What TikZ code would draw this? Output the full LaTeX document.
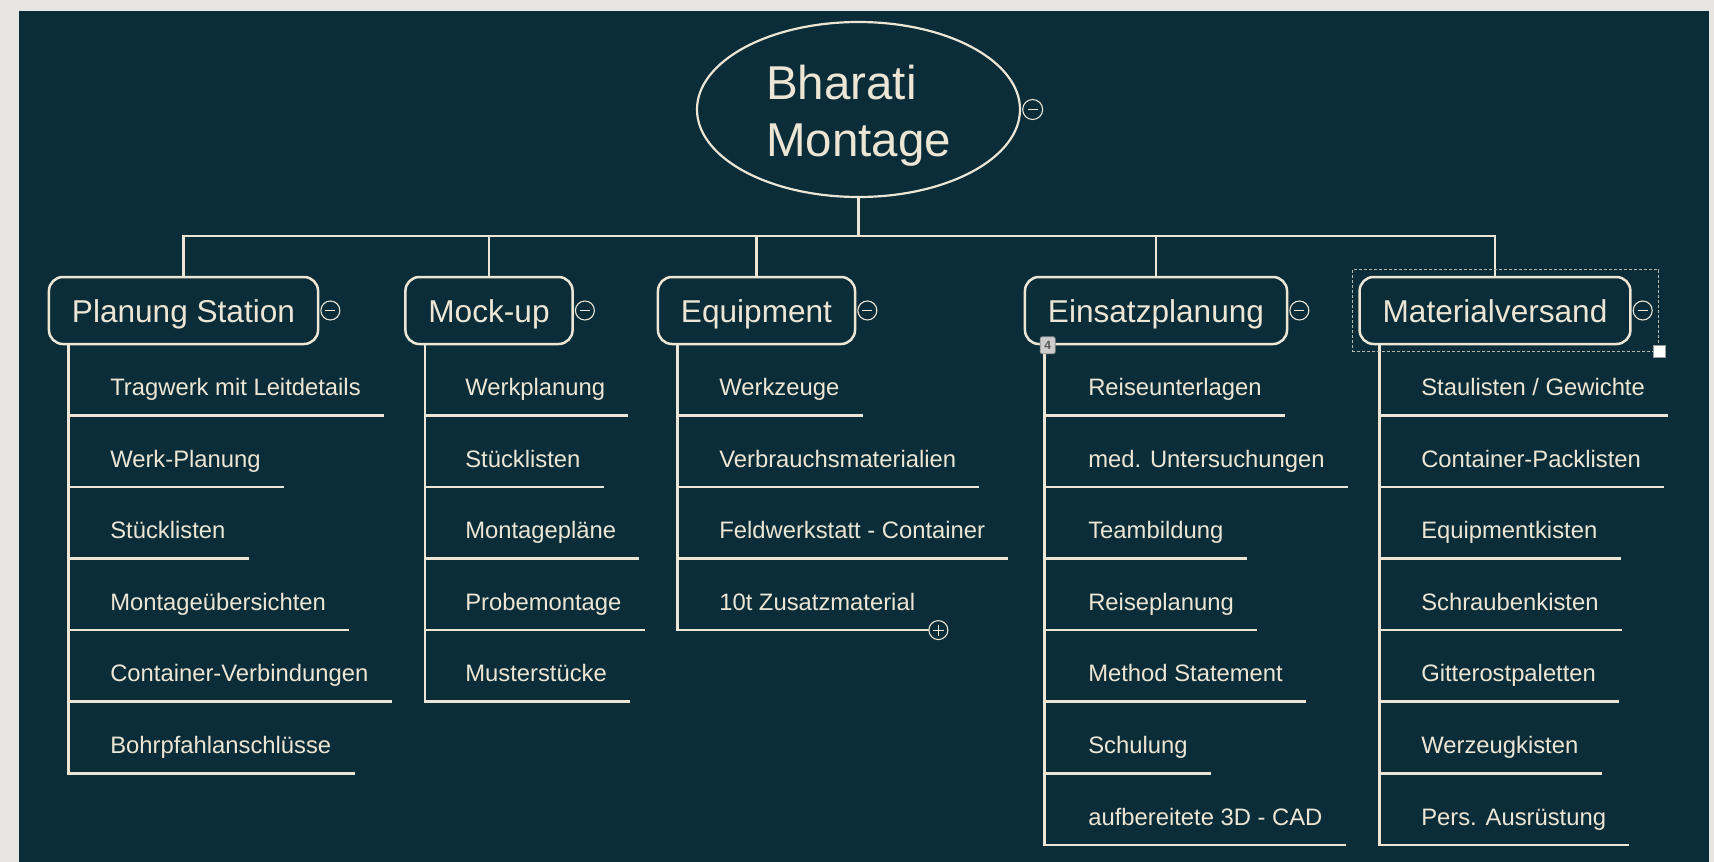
\documentclass[tikz,border=0pt]{standalone}
\usepackage{fontspec}
\setmainfont{Liberation Sans}
\usetikzlibrary{positioning,shapes.geometric,fit}
\definecolor{mapbg}{HTML}{0A2D39}
\definecolor{mapline}{HTML}{EEE6D4}
\definecolor{mapframe}{HTML}{E8E6E3}

\tikzset{
  root/.style={ellipse, draw=mapline, line width=2.2pt, inner sep=0pt,
    minimum width=323pt, minimum height=175pt, align=left,
    text height=103pt, text depth=10pt,
    font=\fontsize{47.5}{57}\selectfont},
  topic/.style={draw=mapline, rounded corners=14pt, line width=2.5pt,
    minimum height=67pt, inner xsep=23pt, text height=23pt, text depth=0pt,
    font=\fontsize{31.6}{38}\selectfont},
  item/.style={anchor=base west, inner sep=0pt, text depth=18.5pt,
    font=\fontsize{23.8}{28}\selectfont},
  fold/.style={circle, draw=mapline, line width=1.1pt, fill=mapbg,
    inner sep=0pt, minimum size=19pt},
  foldminus/.style={fold, path picture={
    \draw[mapline, line width=1.1pt] ([xshift=-5pt]path picture bounding box.center)
      -- ([xshift=5pt]path picture bounding box.center);}},
  foldplus/.style={fold, path picture={
    \draw[mapline, line width=1.1pt] ([xshift=-5.5pt]path picture bounding box.center)
      -- ([xshift=5.5pt]path picture bounding box.center);
    \draw[mapline, line width=1.1pt] ([yshift=-5.5pt]path picture bounding box.center)
      -- ([yshift=5.5pt]path picture bounding box.center);}},
  badge/.style={fill=black!20, draw=black!45, line width=0.8pt, rounded corners=2pt,
    minimum width=15pt, minimum height=17pt, inner sep=0pt, text=black!65,
    font=\fontsize{12}{12}\selectfont\bfseries},
  selbox/.style={draw=mapline!75!mapbg, line width=1pt, dash pattern=on 3pt off 2pt,
    inner sep=6pt},
  grip/.style={fill=white, draw=black!40, line width=0.6pt, minimum size=12pt, inner sep=0pt}
}

\begin{document}
\begin{tikzpicture}[x=1pt, y=-1pt, color=mapline, line width=2.6pt]
  \useasboundingbox (0,0) rectangle (1714,862);
  \fill[mapframe] (0,0) rectangle (1714,862);
  \fill[mapbg] (19,11) rectangle (1709,862);

  % central topic
  \node (root) [root] at (858.5,109.5) {Bharati\\Montage};
  \node (rootm) [foldminus, minimum size=20pt, right=1pt of root] {};
  \coordinate (bus) at (858.5,236);

  % main topics
  \node (ps) [topic] at (183.5,310.5) {Planung Station};
  \node (mu) [topic] at (489,310.5) {Mock-up};
  \node (eq) [topic] at (756.5,310.5) {Equipment};
  \node (ep) [topic] at (1156,310.5) {Einsatzplanung};
  \node (mv) [topic] at (1495,310.5) {Materialversand};

  \node (psm) [foldminus, right=1pt of ps] {};
  \node (mum) [foldminus, right=1pt of mu] {};
  \node (eqm) [foldminus, right=1pt of eq] {};
  \node (epm) [foldminus, right=1pt of ep] {};
  \node (mvm) [foldminus, right=1pt of mv] {};

  \draw (root.south) -- (bus);
  \draw (ps.north) -- (ps.north |- bus) -- (mv.north |- bus) -- (mv.north);
  \draw (mu.north) -- (mu.north |- bus);
  \draw (eq.north) -- (eq.north |- bus);
  \draw (ep.north) -- (ep.north |- bus);

  % Planung Station
  \coordinate (psT) at ([xshift=21pt]ps.south west);
  \node (ps1) [item] at (109,395.5) {Tragwerk mit Leitdetails};
  \node (ps2) [below=71.6pt of ps1.base west, item] {Werk-Planung};
  \node (ps3) [below=71.6pt of ps2.base west, item] {Stücklisten};
  \node (ps4) [below=71.6pt of ps3.base west, item] {Montageübersichten};
  \node (ps5) [below=71.6pt of ps4.base west, item] {Container-Verbindungen};
  \node (ps6) [below=71.6pt of ps5.base west, item] {Bohrpfahlanschlüsse};
  \draw (psT |- ps1.south) -- ([xshift=22pt]ps1.south east);
  \draw (psT |- ps2.south) -- ([xshift=22pt]ps2.south east);
  \draw (psT |- ps3.south) -- ([xshift=22pt]ps3.south east);
  \draw (psT |- ps4.south) -- ([xshift=22pt]ps4.south east);
  \draw (psT |- ps5.south) -- ([xshift=22pt]ps5.south east);
  \draw (psT) -- (psT |- ps6.south) -- ([xshift=22pt]ps6.south east);

  % Mock-up
  \coordinate (muT) at ([xshift=21pt]mu.south west);
  \node (mu1) [item] at (464,395.5) {Werkplanung};
  \node (mu2) [below=71.6pt of mu1.base west, item] {Stücklisten};
  \node (mu3) [below=71.6pt of mu2.base west, item] {Montagepläne};
  \node (mu4) [below=71.6pt of mu3.base west, item] {Probemontage};
  \node (mu5) [below=71.6pt of mu4.base west, item] {Musterstücke};
  \draw (muT |- mu1.south) -- ([xshift=22pt]mu1.south east);
  \draw (muT |- mu2.south) -- ([xshift=22pt]mu2.south east);
  \draw (muT |- mu3.south) -- ([xshift=22pt]mu3.south east);
  \draw (muT |- mu4.south) -- ([xshift=22pt]mu4.south east);
  \draw (muT) -- (muT |- mu5.south) -- ([xshift=22pt]mu5.south east);

  % Equipment
  \coordinate (eqT) at ([xshift=21pt]eq.south west);
  \node (eq1) [item] at (718,395.5) {Werkzeuge};
  \node (eq2) [below=71.6pt of eq1.base west, item] {Verbrauchsmaterialien};
  \node (eq3) [below=71.6pt of eq2.base west, item] {Feldwerkstatt - Container};
  \node (eq4) [below=71.6pt of eq3.base west, item] {10t Zusatzmaterial};
  \draw (eqT |- eq1.south) -- ([xshift=22pt]eq1.south east);
  \draw (eqT |- eq2.south) -- ([xshift=22pt]eq2.south east);
  \draw (eqT |- eq3.south) -- ([xshift=22pt]eq3.south east);
  \draw (eqT) -- (eqT |- eq4.south) -- ([xshift=22pt]eq4.south east);
  \node (eqp) [foldplus] at ([xshift=22pt]eq4.south east) {};

  % Einsatzplanung
  \coordinate (epT) at ([xshift=21pt]ep.south west);
  \node (ep1) [item] at (1087,395.5) {Reiseunterlagen};
  \node (ep2) [below=71.6pt of ep1.base west, item] {med. Untersuchungen};
  \node (ep3) [below=71.6pt of ep2.base west, item] {Teambildung};
  \node (ep4) [below=71.6pt of ep3.base west, item] {Reiseplanung};
  \node (ep5) [below=71.6pt of ep4.base west, item] {Method Statement};
  \node (ep6) [below=71.6pt of ep5.base west, item] {Schulung};
  \node (ep7) [below=71.6pt of ep6.base west, item] {aufbereitete 3D - CAD};
  \draw (epT |- ep1.south) -- ([xshift=22pt]ep1.south east);
  \draw (epT |- ep2.south) -- ([xshift=22pt]ep2.south east);
  \draw (epT |- ep3.south) -- ([xshift=22pt]ep3.south east);
  \draw (epT |- ep4.south) -- ([xshift=22pt]ep4.south east);
  \draw (epT |- ep5.south) -- ([xshift=22pt]ep5.south east);
  \draw (epT |- ep6.south) -- ([xshift=22pt]ep6.south east);
  \draw (epT) -- (epT |- ep7.south) -- ([xshift=22pt]ep7.south east);
  \node (epn) [badge] at ([xshift=24pt]ep.south west) {4};

  % Materialversand
  \coordinate (mvT) at ([xshift=21pt]mv.south west);
  \node (mv1) [item] at (1420,395.5) {Staulisten / Gewichte};
  \node (mv2) [below=71.6pt of mv1.base west, item] {Container-Packlisten};
  \node (mv3) [below=71.6pt of mv2.base west, item] {Equipmentkisten};
  \node (mv4) [below=71.6pt of mv3.base west, item] {Schraubenkisten};
  \node (mv5) [below=71.6pt of mv4.base west, item] {Gitterostpaletten};
  \node (mv6) [below=71.6pt of mv5.base west, item] {Werzeugkisten};
  \node (mv7) [below=71.6pt of mv6.base west, item] {Pers. Ausrüstung};
  \draw (mvT |- mv1.south) -- ([xshift=22pt]mv1.south east);
  \draw (mvT |- mv2.south) -- ([xshift=22pt]mv2.south east);
  \draw (mvT |- mv3.south) -- ([xshift=22pt]mv3.south east);
  \draw (mvT |- mv4.south) -- ([xshift=22pt]mv4.south east);
  \draw (mvT |- mv5.south) -- ([xshift=22pt]mv5.south east);
  \draw (mvT |- mv6.south) -- ([xshift=22pt]mv6.south east);
  \draw (mvT) -- (mvT |- mv7.south) -- ([xshift=22pt]mv7.south east);

  % selection frame
  \node (sel) [selbox, fit=(mv)(mvm)] {};
  \node (selg) [grip] at (sel.south east) {};
\end{tikzpicture}
\end{document}
